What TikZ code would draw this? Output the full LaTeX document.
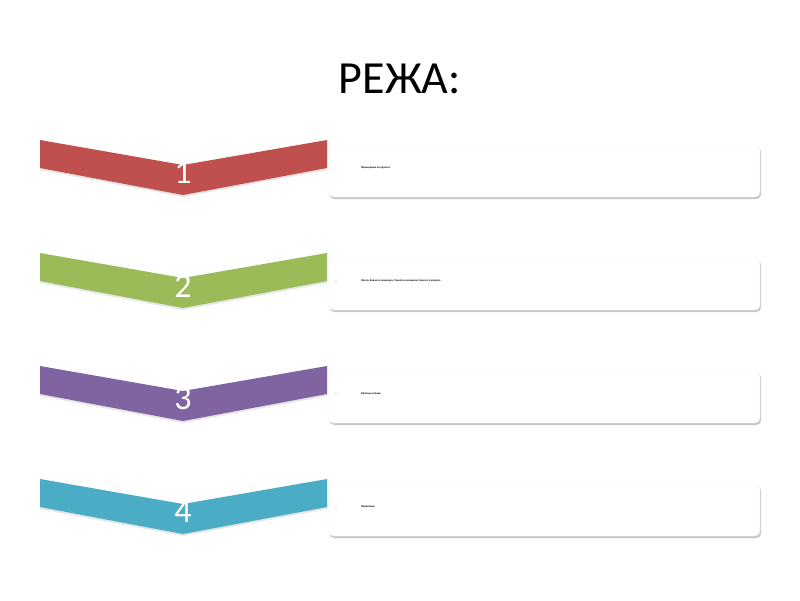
\documentclass[tikz,border=0pt]{standalone}
\usepackage{fontspec}
\setmainfont{Carlito}
\usetikzlibrary{shadows}
\definecolor{cred}{HTML}{C0504D}
\definecolor{cgreen}{HTML}{9BBB59}
\definecolor{cpurple}{HTML}{8064A2}
\definecolor{ccyan}{HTML}{4BACC6}
\tikzset{
  chev/.style={draw=none, drop shadow={shadow xshift=0pt, shadow yshift=-2pt, opacity=0.2}},
  numlbl/.style={text=white, font=\fontsize{34}{34}\selectfont, inner sep=0pt, anchor=center},
  infobox/.style={draw=black!6, line width=0.4pt, fill=white, rounded corners=5pt,
    drop shadow={shadow xshift=1.2pt, shadow yshift=-2pt, opacity=0.45}},
  tinytext/.style={font=\fontsize{2.8}{3}\selectfont\bfseries, text=black, inner sep=0pt, anchor=west},
  bulletdot/.style={circle, fill=black, inner sep=0pt, minimum size=0.9pt},
  title/.style={font=\fontsize{46}{46}\selectfont, text=black, inner sep=0pt}
}
\begin{document}
\begin{tikzpicture}[x=1pt,y=-1pt]
\useasboundingbox (0,0) rectangle (800,600);
\node[title, anchor=base] (title) at (400,93) {РЕЖА:};
\foreach \t/\c/\n/\txt [count=\i] in {
  140/cred/1/{Формирање на круната},
  253/cgreen/2/{Лесно, Бавно се намалува, Тенкото и развиено гранче се исекува},
  366/cpurple/3/{Кратење гранки},
  479/ccyan/4/{Прореѓање}}{
  \fill[\c, chev] (40,\t) -- (183,\t+25) -- (327,\t) -- (327,\t+28) -- (183,\t+55) -- (40,\t+28) -- cycle;
  \node[numlbl] (num\i) at (183,\t+33) {\n};
  \path[infobox] (328,\t+5) rectangle (760,\t+57);
  \coordinate (boxref\i) at (328,\t+28);
  \node[bulletdot] (dot\i) at ([xshift=8pt]boxref\i) {};
  \node[tinytext] (txt\i) at ([xshift=33pt]boxref\i) {\txt};
}
\end{tikzpicture}
\end{document}
